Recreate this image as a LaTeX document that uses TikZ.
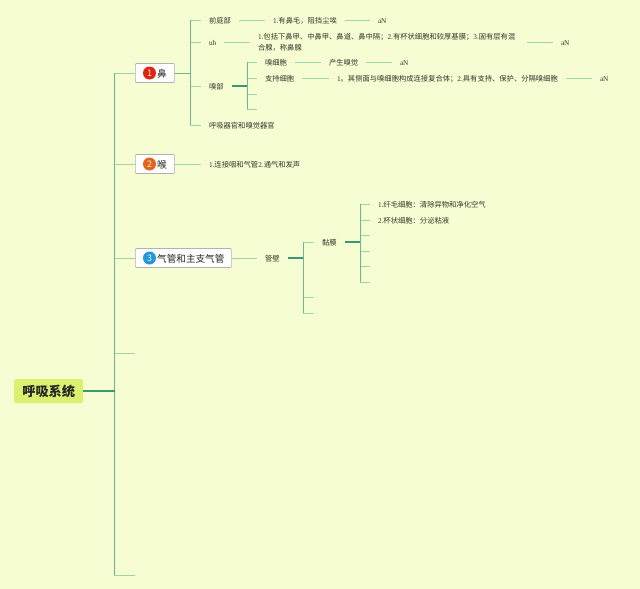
\documentclass[tikz,border=0pt]{standalone}
\usepackage{fontspec}
\setmainfont{Noto Sans CJK SC}[Scale=1]
\newfontfamily\lat{Liberation Serif}
\newcommand{\LL}[1]{{\lat #1}}
\definecolor{bgc}{HTML}{F6FDD2}
\definecolor{lnk}{HTML}{6AB890}
\definecolor{lnkd}{HTML}{3F9673}
\definecolor{stubc}{HTML}{9DD3A6}
\definecolor{txt}{HTML}{33382C}
\definecolor{rootc}{HTML}{DAF06E}
\definecolor{numa}{HTML}{E0240F}
\definecolor{numb}{HTML}{E2651B}
\definecolor{numc}{HTML}{2198DE}
\tikzset{
  x=1pt,y=-1pt,
  lab/.style={anchor=west,inner sep=0pt,outer xsep=8pt,text=txt,font=\fontsize{7.3}{11}\selectfont,text height=7pt,text depth=0pt},
  multi/.style={anchor=west,inner sep=0pt,outer xsep=8pt,text=txt,font=\fontsize{7.3}{11}\selectfont,align=left},
  topbox/.style={draw=black!30,fill=white,rounded corners=1pt,line width=.7pt,anchor=west,minimum height=19pt,inner sep=0pt},
  topnum/.style={circle,inner sep=0pt,minimum size=13pt,text=white!90!numa,font=\fontsize{9}{9}\selectfont},
  toptxt/.style={anchor=west,inner sep=0pt,text=black!85,font=\fontsize{9.6}{11}\selectfont},
  rootbox/.style={fill=rootc,rounded corners=2pt,minimum width=69pt,minimum height=24pt,inner sep=0pt,anchor=west,font=\bfseries\fontsize{13.2}{15}\selectfont,text=black!85},
  conn/.style={draw=lnk,line width=1pt},
  stub/.style={draw=stubc,line width=1pt},
  strong/.style={draw=lnkd,line width=1.2pt},
}
\begin{document}
\begin{tikzpicture}
\path[use as bounding box,fill=bgc] (0,0) rectangle (640,589);
% root and top level
\node[rootbox] (root) at (14,391) {呼吸系统};
\coordinate (trunk) at (114.5,391);
\node[topbox,minimum width=39pt] (b1) at (135,73) {};
\node[topnum,fill=numa] (n1) at (149.5,73) {1};
\node[toptxt] (t1) at (157,73.5) {鼻};
\node[topbox,minimum width=39pt] (b2) at (135,164) {};
\node[topnum,fill=numb] (n2) at (149.5,164) {2};
\node[toptxt] (t2) at (157,164.5) {喉};
\node[topbox,minimum width=96pt] (b3) at (135,258) {};
\node[topnum,fill=numc] (n3) at (149.5,258) {3};
\node[toptxt] (t3) at (157,258.5) {气管和主支气管};
\coordinate (e4) at (135,353);
\coordinate (e5) at (135,575);
% branch of 1
\node[lab] (a1) at (201,20) {前庭部};
\node[lab] (a1t) at (265,20) {\LL{1.}有鼻毛，阻挡尘埃};
\node[lab] (a1n) at (370,20) {\LL{aN}};
\node[lab] (a2) at (201,42) {\LL{uh}};
\node[multi] (a2t) at (250,42.5) {\LL{1.}包括下鼻甲、中鼻甲、鼻道、鼻中隔；\LL{2.}有杯状细胞和较厚基膜；\LL{3.}固有层有混\\合腺，称鼻腺};
\node[lab] (a2n) at (553,42) {\LL{aN}};
\node[lab] (a3) at (201,86) {嗅部};
\node[lab] (o1) at (257,62) {嗅细胞};
\node[lab] (o1t) at (321,62) {产生嗅觉};
\node[lab] (o1n) at (392,62) {\LL{aN}};
\node[lab] (o2) at (257,78) {支持细胞};
\node[lab] (o2t) at (329,78) {\LL{1}。其侧面与嗅细胞构成连接复合体；\LL{2.}具有支持、保护、分隔嗅细胞};
\node[lab] (o2n) at (592,78) {\LL{aN}};
\coordinate (o3) at (257,94);
\coordinate (o4) at (257,109);
\node[lab] (a4) at (201,125) {呼吸器官和嗅觉器官};
% branch of 2
\node[lab] (c1) at (201,164) {\LL{1.}连接咽和气管\LL{2.}通气和发声};
% branch of 3
\node[lab] (d1) at (257,258) {管壁};
\node[lab] (m1) at (314,242) {黏膜};
\coordinate (m2) at (314,297);
\coordinate (m3) at (314,313);
\node[lab] (s1) at (370,204) {\LL{1.}纤毛细胞：清除异物和净化空气};
\node[lab] (s2) at (370,220) {\LL{2.}杯状细胞：分泌粘液};
\coordinate (s3) at (370,235);
\coordinate (s4) at (370,251);
\coordinate (s5) at (370,266);
\coordinate (s6) at (370,282);
% junctions
\coordinate (j1) at (190.5,73);
\coordinate (j3) at (247,86);
\coordinate (jd) at (303,258);
\coordinate (jm) at (360,242);
% horizontal stubs
\foreach \t in {b1.west,b2.west,b3.west,e4,e5}{\draw[stub] (trunk) |- (\t);}
\foreach \t in {a1.west,a2.west,a3.west,a4.west}{\draw[stub] (j1) |- (\t);}
\foreach \t in {o1.west,o2.west,o3,o4}{\draw[stub] (j3) |- (\t);}
\foreach \t in {m1.west,m2,m3}{\draw[stub] (jd) |- (\t);}
\foreach \t in {s1.west,s2.west,s3,s4,s5,s6}{\draw[stub] (jm) |- (\t);}
% verticals
\draw[conn] (trunk |- b1.west) -- (trunk |- e5);
\draw[conn] (j1 |- a1.west) -- (j1 |- a4.west);
\draw[conn] (j3 |- o1.west) -- (j3 |- o4);
\draw[conn] (jd |- m1.west) -- (jd |- m3);
\draw[conn] (jm |- s1.west) -- (jm |- s6);
% strong links
\draw[strong] (root.east) -- (trunk);
\draw[conn] (b1.east) -- (j1);
\draw[strong] (a3.east) -- (j3);
\draw[strong] (d1.east) -- (jd);
\draw[strong] (m1.east) -- (jm);
% plain links
\draw[stub] (b2.east) -- (c1.west);
\draw[stub] (b3.east) -- (d1.west);
\draw[stub] (a1.east) -- (a1t.west);
\draw[stub] (a1t.east) -- (a1n.west);
\draw[stub] (a2.east) -- (a2t.west |- a2.east);
\draw[stub] ([xshift=4pt]a2t.east |- a2n.west) -- (a2n.west);
\draw[stub] (o1.east) -- (o1t.west);
\draw[stub] (o1t.east) -- (o1n.west);
\draw[stub] (o2.east) -- (o2t.west);
\draw[stub] (o2t.east) -- (o2n.west);
\end{tikzpicture}
\end{document}
